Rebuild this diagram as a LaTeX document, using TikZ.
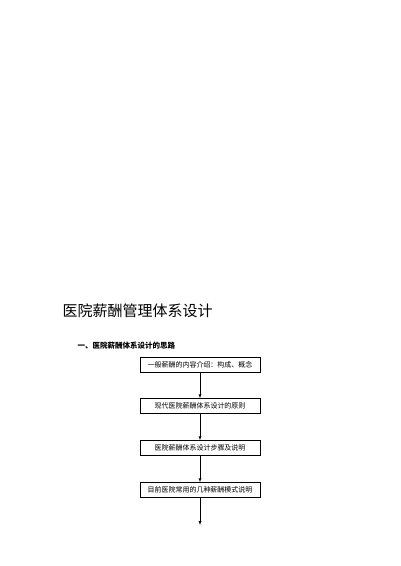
\documentclass[tikz,border=0pt]{standalone}
\usepackage{fontspec}
\usepackage{tikz}
\newfontfamily\cjk{Noto Sans CJK SC}

\begin{document}
\begin{tikzpicture}[x=1pt,y=-1pt,
        stepbox/.style={draw,thin,minimum width=120pt,minimum height=15pt,inner sep=0pt,font=\cjk\fontsize{7}{8}\selectfont}]
        \useasboundingbox (0,0) rectangle (400,566);
        \node[anchor=west,font=\cjk\fontsize{15}{18}\selectfont](title)at(59,311){医院薪酬管理体系设计};
        \node[anchor=west,font=\cjk\bfseries\fontsize{7.5}{9}\selectfont](sub)at(74,346){一、医院薪酬体系设计的思路};
        \node[stepbox](a)at(200,365){一般薪酬的内容介绍：构成、概念};
        \node[stepbox](b)at(200,406){现代医院薪酬体系设计的原则};
        \node[stepbox](c)at(200,448){医院薪酬体系设计步骤及说明};
        \node[stepbox](d)at(200,490){目前医院常用的几种薪酬模式说明};
        \coordinate (e) at (200,525);
        \draw[-latex,black] (a)--(b);
        \draw[-latex,black] (b)--(c);
        \draw[-latex,black] (c)--(d);
        \draw[-latex,black] (d)--(e);
    \end{tikzpicture}
\end{document}
